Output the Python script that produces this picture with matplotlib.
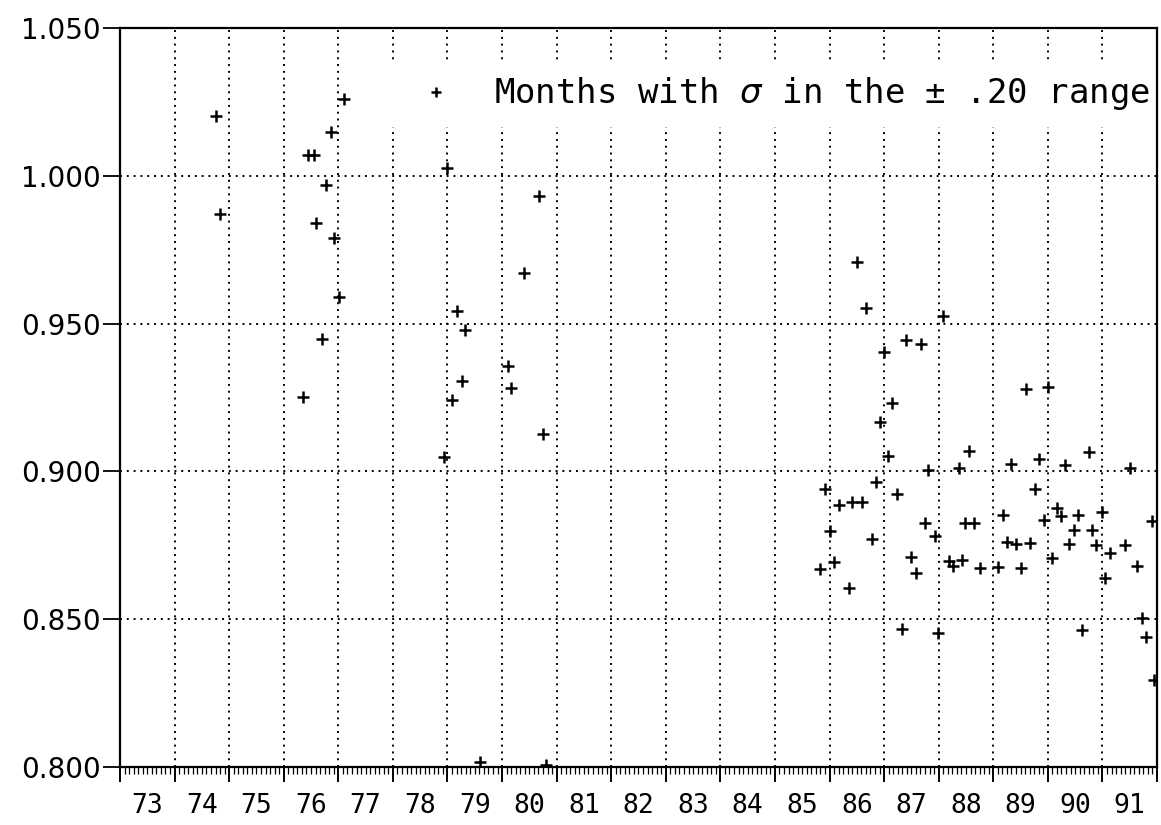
import numpy as np
import matplotlib.pyplot as plt
from matplotlib.patches import Rectangle
from matplotlib.ticker import FixedLocator

# monthly points: position in decimal years (19xx) and value
years = [74.76, 74.84,
         76.36, 76.45, 76.55, 76.60, 76.70, 76.77, 76.86, 76.93, 77.01, 77.10,
         78.93, 79.00, 79.08, 79.17, 79.26, 79.33, 79.60,
         80.10, 80.17, 80.41, 80.68, 80.75, 80.80,
         85.82, 85.91, 86.01, 86.08, 86.17, 86.35, 86.42, 86.50, 86.59, 86.67,
         86.77, 86.85, 86.92, 87.00, 87.07, 87.14, 87.24, 87.32, 87.41, 87.50,
         87.59, 87.67, 87.75, 87.81, 87.93, 87.99, 88.08, 88.18, 88.26, 88.38,
         88.42, 88.49, 88.55, 88.64, 88.76, 89.08, 89.17, 89.26, 89.33, 89.42,
         89.50, 89.60, 89.67, 89.76, 89.84, 89.93, 90.00, 90.07, 90.17, 90.24,
         90.32, 90.39, 90.48, 90.56, 90.62, 90.75, 90.81, 90.89, 91.00, 91.05,
         91.14, 91.41, 91.50, 91.64, 91.72, 91.80, 91.90, 91.94]
ratio = [1.0202, 0.9872,
         0.9251, 1.0071, 1.0071, 0.9842, 0.9448, 0.9968, 1.0147, 0.9791, 0.9590, 1.0260,
         0.9049, 1.0025, 0.9243, 0.9544, 0.9306, 0.9477, 0.8017,
         0.9356, 0.9281, 0.9670, 0.9930, 0.9128, 0.8007,
         0.8669, 0.8940, 0.8798, 0.8695, 0.8886, 0.8607, 0.8897, 0.9708, 0.8897, 0.9553,
         0.8773, 0.8963, 0.9168, 0.9404, 0.9053, 0.9233, 0.8925, 0.8468, 0.9444, 0.8712,
         0.8656, 0.9432, 0.8825, 0.9005, 0.8782, 0.8455, 0.9525, 0.8697, 0.8681, 0.9011,
         0.8701, 0.8827, 0.9068, 0.8827, 0.8672, 0.8676, 0.8851, 0.8762, 0.9025, 0.8756,
         0.8672, 0.9280, 0.8759, 0.8940, 0.9043, 0.8836, 0.9285, 0.8706, 0.8876, 0.8848,
         0.9023, 0.8755, 0.8802, 0.8851, 0.8463, 0.9064, 0.8802, 0.8750, 0.8861, 0.8638,
         0.8723, 0.8752, 0.9011, 0.8680, 0.8504, 0.8441, 0.8831, 0.8295]

year_labels = [str(y) for y in range(73, 92)]
y_ticks = [0.800, 0.850, 0.900, 0.950, 1.000, 1.050]
legend_label = 'Months with $\\sigma$ in the ± .20 range'

fig = plt.figure(figsize=(11.61, 8.25), dpi=100)
ax = fig.add_axes([120 / 1161, 58 / 825, 1037 / 1161, 739 / 825])

ax.plot(years, ratio, linestyle='none', marker='+', color='black',
        markersize=9, markeredgewidth=1.8, label=legend_label)

ax.set_xlim(73, 92)
ax.set_ylim(0.8, 1.05)

# year boundaries (long ticks + grid), monthly minor ticks
ax.xaxis.set_major_locator(FixedLocator(np.arange(73, 93)))
ax.xaxis.set_minor_locator(FixedLocator(np.arange(73, 92.001, 1 / 12)))
ax.tick_params(axis='x', which='both', labelbottom=False, direction='out')
ax.tick_params(axis='x', which='major', length=11, width=1.4)
ax.tick_params(axis='x', which='minor', length=5, width=0.9)

ax.set_yticks(y_ticks)
ax.yaxis.set_major_formatter('{x:.3f}')
ax.tick_params(axis='y', direction='out', length=12, width=1.3, pad=2,
               labelsize=20)

ax.set_axisbelow(True)
ax.grid(True, which='major', color='black', linestyle=(0, (1, 2.5)),
        linewidth=1.4)

for s in ax.spines.values():
    s.set_linewidth(1.6)

# year labels centred in each year
sec = ax.secondary_xaxis('bottom')
sec.set_xticks(np.arange(73.5, 92, 1), year_labels)
sec.tick_params(length=0, pad=19, labelsize=19,
                labelfontfamily=['Liberation Sans Narrow', 'DejaVu Sans Mono'])
sec.spines['bottom'].set_visible(False)

# white box behind the legend hides the grid there
ax.add_patch(Rectangle((0.25, 0.866), 0.75, 0.091, transform=ax.transAxes,
                       facecolor='white', edgecolor='none', zorder=1))
ax.legend(loc='center right', bbox_to_anchor=(1.0, (767 - 94) / 739),
          borderaxespad=0, frameon=False, numpoints=1, markerscale=0.8,
          prop={'family': 'DejaVu Sans Mono', 'size': 24.5},
          handlelength=1.0, handletextpad=1.2, borderpad=0.2)

fig.savefig('out.png', dpi=100)
